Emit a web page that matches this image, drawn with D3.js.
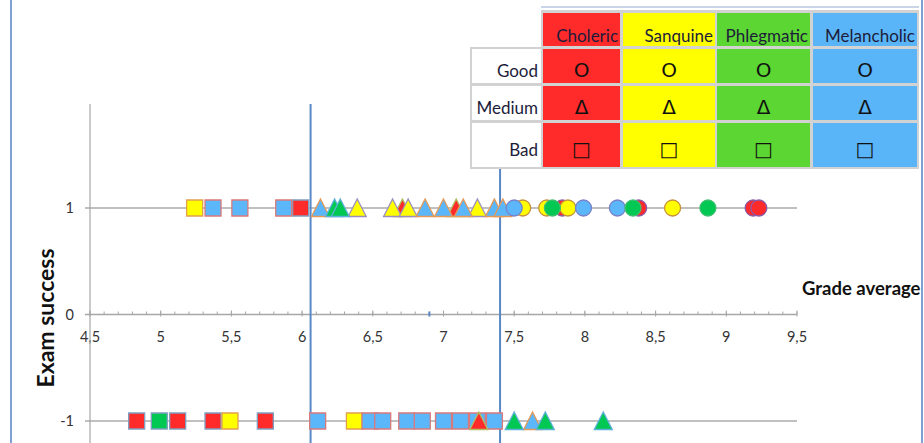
<!DOCTYPE html>
<html lang="en">
<head>
    <meta charset="UTF-8">
    <title>Exam success by grade average and temperament</title>
    <script src="https://d3js.org/d3.v7.min.js"></script>
    <style>
        body {
            margin: 0;
            background: #fff;
            font-family: Lato, "Open Sans", sans-serif;
        }

        .tick-label {
            font-size: 14.5px;
            fill: #333;
        }

        .table-text {
            font-size: 17px;
            fill: #1c1c3a;
        }
    </style>
</head>
<body>

<svg id="chart" width="924" height="443"></svg>

<script>
    // Categories and legend
    const temperaments = ["Choleric", "Sanquine", "Phlegmatic", "Melancholic"];
    const temperCodes = ["C", "S", "P", "M"];
    const levels = ["Good", "Medium", "Bad"];
    const levelCodes = ["G", "M", "B"];
    const levelSymbols = ["O", "Δ", "□"];

    // Tick labels
    const xTicks = [4.5, 5, 5.5, 6, 6.5, 7, 7.5, 8, 8.5, 9, 9.5];
    const yTicks = [-1, 0, 1];

    // Students who passed (exam success = 1)
    const passGrade  = [5.24, 5.37, 5.56, 5.87, 5.99,
                        6.13, 6.23, 6.27, 6.39, 6.64, 6.71, 6.75, 6.87, 7.00, 7.09, 7.14, 7.24, 7.36, 7.42,
                        7.50, 7.56, 7.73, 7.77, 7.84, 7.88, 7.99, 8.23, 8.34, 8.38, 8.62, 8.87, 9.19, 9.23];
    const passTemper = ["S", "M", "M", "M", "C",
                        "M", "P", "P", "S", "S", "C", "S", "M", "M", "C", "M", "S", "M", "M",
                        "M", "S", "S", "P", "C", "S", "M", "M", "P", "C", "S", "P", "C", "C"];
    const passLevel  = ["B", "B", "B", "B", "B",
                        "M", "M", "M", "M", "M", "M", "M", "M", "M", "M", "M", "M", "M", "M",
                        "G", "G", "G", "G", "G", "G", "G", "G", "G", "G", "G", "G", "G", "G"];

    // Students who failed (exam success = -1)
    const failGrade  = [4.83, 4.99, 5.12, 5.37, 5.49, 5.74, 6.11, 6.37, 6.48, 6.57, 6.74, 6.85, 7.00, 7.12, 7.24, 7.36,
                        7.25, 7.50, 7.63, 7.72, 8.13];
    const failTemper = ["C", "P", "C", "C", "S", "C", "M", "S", "M", "M", "M", "M", "M", "M", "M", "M",
                        "C", "P", "M", "P", "P"];
    const failLevel  = ["B", "B", "B", "B", "B", "B", "B", "B", "B", "B", "B", "B", "B", "B", "B", "B",
                        "M", "M", "M", "M", "M"];

    // Threshold lines
    const thresholds = [6.06, 7.40];

    // Colours
    const fillColor = { C: "#ff2a2a", S: "#ffff00", P: "#00c853", M: "#5cb6fa" };
    const tableColor = { C: "#ff2a2a", S: "#ffff00", P: "#5cd632", M: "#5ab4f8" };
    const strokeColor = {
        B: { C: "#7f9fc0", S: "#e0a050", P: "#7f9fc0", M: "#d97a7a" },
        M: { C: "#b0c060", S: "#9c8fc0", P: "#5fb0d8", M: "#e59a55" },
        G: { C: "#8a5aa8", S: "#c8903c", P: "#3fbf70", M: "#7a80c8" }
    };

    const svg = d3.select("#chart");

    // Scales
    const x = d3.scaleLinear().domain([4.5, 9.5]).range([90, 797]);
    const y = d3.scaleLinear().domain([-1, 1]).range([421, 208]);

    // Chart frame
    svg.append("line").attr("x1", 11).attr("x2", 11).attr("y1", 0).attr("y2", 443)
        .attr("stroke", "#7fa0d0").attr("stroke-width", 2);
    svg.append("line").attr("x1", 922).attr("x2", 922).attr("y1", 0).attr("y2", 443)
        .attr("stroke", "#7fa0d0").attr("stroke-width", 2);

    // Horizontal lines at 1 and -1
    svg.selectAll(".hgrid")
        .data([1, -1])
        .enter()
        .append("line")
        .attr("x1", 85).attr("x2", x(9.5))
        .attr("y1", d => y(d)).attr("y2", d => y(d))
        .attr("stroke", "#c0c0c0")
        .attr("stroke-width", 2);

    // X axis at y = 0
    svg.append("line")
        .attr("x1", 85).attr("x2", x(9.5))
        .attr("y1", y(0)).attr("y2", y(0))
        .attr("stroke", "#a6a6a6").attr("stroke-width", 1.5);

    // Minor ticks every 0.1
    svg.selectAll(".minor")
        .data(d3.range(45, 96).map(d => d / 10))
        .enter()
        .append("line")
        .attr("x1", d => x(d)).attr("x2", d => x(d))
        .attr("y1", y(0) - 3).attr("y2", y(0))
        .attr("stroke", "#a6a6a6");

    svg.selectAll(".major")
        .data(xTicks)
        .enter()
        .append("line")
        .attr("x1", d => x(d)).attr("x2", d => x(d))
        .attr("y1", y(0) - 4).attr("y2", y(0) + 2)
        .attr("stroke", "#a6a6a6");

    svg.selectAll(".x-label")
        .data(xTicks)
        .enter()
        .append("text")
        .attr("class", "tick-label")
        .attr("x", d => x(d))
        .attr("y", y(0) + 27)
        .attr("text-anchor", "middle")
        .text(d => String(d).replace(".", ","));

    // Y axis
    svg.append("line")
        .attr("x1", x(4.5)).attr("x2", x(4.5))
        .attr("y1", 104).attr("y2", 443)
        .attr("stroke", "#a6a6a6").attr("stroke-width", 1.2);

    svg.selectAll(".y-label")
        .data(yTicks)
        .enter()
        .append("text")
        .attr("class", "tick-label")
        .attr("x", 74)
        .attr("y", d => y(d) + 5)
        .attr("text-anchor", "end")
        .text(d => d);

    // Axis titles
    svg.append("text")
        .attr("transform", `translate(54, 318) rotate(-90)`)
        .attr("text-anchor", "middle")
        .style("font-size", "23px")
        .style("font-weight", "bold")
        .style("fill", "#111")
        .text("Exam success");

    svg.append("text")
        .attr("x", 802)
        .attr("y", 295)
        .style("font-size", "18.5px")
        .style("font-weight", "bold")
        .style("fill", "#111")
        .text("Grade average");

    // Threshold lines
    svg.selectAll(".threshold")
        .data(thresholds)
        .enter()
        .append("line")
        .attr("x1", d => x(d)).attr("x2", d => x(d))
        .attr("y1", 104).attr("y2", 443)
        .attr("stroke", "#5a88c6").attr("stroke-width", 2);

    svg.append("line")
        .attr("x1", x(6.9)).attr("x2", x(6.9))
        .attr("y1", y(0) - 3).attr("y2", y(0) + 2)
        .attr("stroke", "#5a88c6").attr("stroke-width", 2);

    // Markers
    const shapePath = {
        B: "M-8,-8H8V8H-8Z",
        M: "M0,-9L9,8.5H-9Z",
        G: d3.symbol().type(d3.symbolCircle).size(Math.PI * 8 * 8)()
    };

    const points = [];
    passGrade.forEach((g, i) => points.push({ grade: g, exam: 1, t: passTemper[i], l: passLevel[i] }));
    failGrade.forEach((g, i) => points.push({ grade: g, exam: -1, t: failTemper[i], l: failLevel[i] }));

    const levelOrder = ["B", "M", "G"];
    const temperOrder = ["C", "S", "M", "P"];
    points.sort((a, b) =>
        (levelOrder.indexOf(a.l) - levelOrder.indexOf(b.l)) ||
        (temperOrder.indexOf(a.t) - temperOrder.indexOf(b.t)) ||
        (a.grade - b.grade));

    svg.selectAll(".marker")
        .data(points)
        .enter()
        .append("path")
        .attr("class", "marker")
        .attr("transform", d => `translate(${x(d.grade)}, ${y(d.exam)})`)
        .attr("d", d => shapePath[d.l])
        .attr("fill", d => fillColor[d.t])
        .attr("stroke", d => strokeColor[d.l][d.t])
        .attr("stroke-width", 1.3);

    // ---------------- Legend table ----------------
    const colEdges = [[472, 541], [543, 620], [623, 715], [717, 810], [813, 917]];
    const rowEdges = [[13, 46], [49, 83], [86, 120], [123, 167]];

    const table = svg.append("g");

    table.append("line")
        .attr("x1", 541).attr("x2", 919).attr("y1", 7).attr("y2", 7)
        .attr("stroke", "#b8c8e0").attr("stroke-width", 1.5);

    table.append("rect")
        .attr("x", 541).attr("y", 10).attr("width", 378).attr("height", 38)
        .attr("fill", "#d2d2d2");
    table.append("rect")
        .attr("x", 470).attr("y", 47).attr("width", 449).attr("height", 122)
        .attr("fill", "#d2d2d2");

    // Header row
    temperaments.forEach((name, j) => {
        const [x0, x1] = colEdges[j + 1];
        const [y0, y1] = rowEdges[0];
        table.append("rect")
            .attr("x", x0).attr("y", y0)
            .attr("width", x1 - x0).attr("height", y1 - y0)
            .attr("fill", tableColor[temperCodes[j]]);
        table.append("text")
            .attr("class", "table-text")
            .attr("x", x1 - 2)
            .attr("y", 42)
            .attr("text-anchor", "end")
            .text(name);
    });

    // Level rows
    levels.forEach((lvl, i) => {
        const [y0, y1] = rowEdges[i + 1];
        const base = (y0 + y1) / 2 + 11;
        const [lx0, lx1] = colEdges[0];
        table.append("rect")
            .attr("x", lx0).attr("y", y0)
            .attr("width", lx1 - lx0).attr("height", y1 - y0)
            .attr("fill", "#fff");
        table.append("text")
            .attr("class", "table-text")
            .attr("x", lx1 - 3)
            .attr("y", base)
            .attr("text-anchor", "end")
            .text(lvl);

        temperCodes.forEach((code, j) => {
            const [x0, x1] = colEdges[j + 1];
            table.append("rect")
                .attr("x", x0).attr("y", y0)
                .attr("width", x1 - x0).attr("height", y1 - y0)
                .attr("fill", tableColor[code]);
            table.append("text")
                .attr("x", (x0 + x1) / 2)
                .attr("y", base)
                .attr("text-anchor", "middle")
                .style("font-family", "'DejaVu Sans', sans-serif")
                .style("font-size", "20px")
                .style("fill", "#111")
                .text(levelSymbols[i]);
        });
    });
</script>

</body>
</html>
